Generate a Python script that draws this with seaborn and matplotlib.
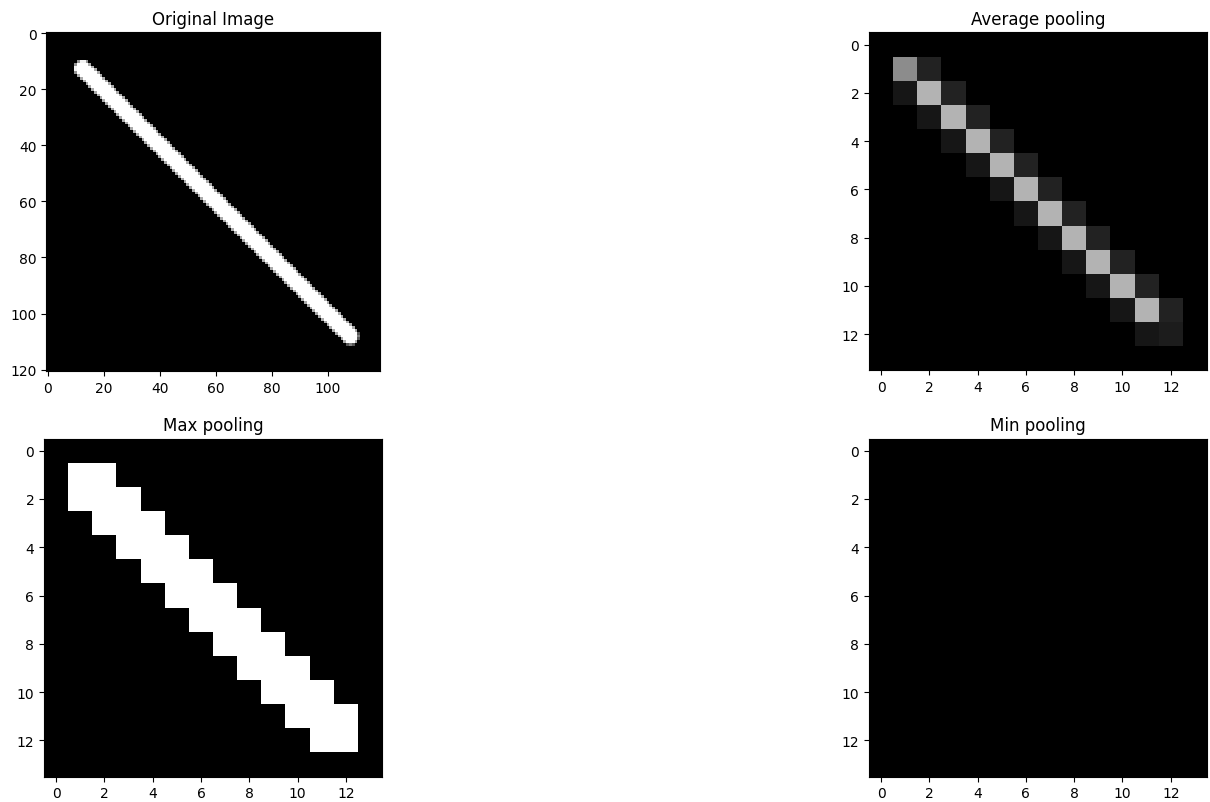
import matplotlib
matplotlib.use("Agg")
import matplotlib.pyplot as plt
import numpy as np
import seaborn as sns

# --------------------------------------------------------------------------
# Original image: one thick white stroke on a black 121x119 canvas
# --------------------------------------------------------------------------
IMG_ROWS, IMG_COLS = 121, 119
LINE_START = (12.5, 12.5)   # (x, y) pixel centre of the stroke start
LINE_END = (108.0, 108.0)
LINE_RADIUS = 3.0

# --------------------------------------------------------------------------
# 14x14 pooled maps, read off per diagonal band (0 = main, +1 above, -1 below)
# --------------------------------------------------------------------------
avg_diag = [0, 140, 179, 179, 179, 179, 179, 179, 179, 179, 179, 179, 28, 0]
avg_upper = [0, 34, 34, 34, 34, 34, 34, 34, 34, 34, 34, 34, 0]
avg_lower = [0, 22, 22, 22, 22, 22, 22, 22, 22, 22, 22, 22, 0]

max_diag = [0, 255, 255, 255, 255, 255, 255, 255, 255, 255, 255, 255, 255, 0]
max_upper = [0, 255, 255, 255, 255, 255, 255, 255, 255, 255, 255, 255, 0]
max_lower = [0, 255, 255, 255, 255, 255, 255, 255, 255, 255, 255, 255, 0]

min_diag = [0] * 14

titles = ["Original Image", "Average pooling", "Max pooling", "Min pooling"]


def stroke_image(rows, cols, p0, p1, radius):
    """Anti-aliased thick segment, values 0..255."""
    yy, xx = np.mgrid[0:rows, 0:cols].astype(float)
    p0, p1 = np.asarray(p0), np.asarray(p1)
    d = p1 - p0
    t = ((xx - p0[0]) * d[0] + (yy - p0[1]) * d[1]) / (d @ d)
    t = np.clip(t, 0, 1)
    dist = np.hypot(xx - (p0[0] + t * d[0]), yy - (p0[1] + t * d[1]))
    return np.clip(radius + 0.5 - dist, 0, 1) * 255


def banded(diag, upper, lower):
    return np.diag(diag) + np.diag(upper, 1) + np.diag(lower, -1)


def show(ax, data, title, step):
    sns.heatmap(data, ax=ax, cmap="gray", vmin=0, vmax=255, cbar=False,
                square=True, xticklabels=False, yticklabels=False)
    nrows, ncols = data.shape
    xt = np.arange(0, ncols, step)
    yt = np.arange(0, nrows, step)
    ax.set_xticks(xt + 0.5)
    ax.set_xticklabels(xt, rotation=0)
    ax.set_yticks(yt + 0.5)
    ax.set_yticklabels(yt, rotation=0)
    for sp in ax.spines.values():
        sp.set_visible(True)
    ax.set_title(title)


original = stroke_image(IMG_ROWS, IMG_COLS, LINE_START, LINE_END, LINE_RADIUS)
avg_pool = banded(avg_diag, avg_upper, avg_lower)
max_pool = banded(max_diag, max_upper, max_lower)
min_pool = np.diag(min_diag)

fig, axes = plt.subplots(2, 2, figsize=(12.1, 8.03), dpi=100)
plt.subplots_adjust(left=0.0364, right=0.9975, top=0.959, bottom=0.031,
                    wspace=1.441, hspace=0.198)

show(axes[0, 0], original, titles[0], 20)
show(axes[0, 1], avg_pool, titles[1], 2)
show(axes[1, 0], max_pool, titles[2], 2)
show(axes[1, 1], min_pool, titles[3], 2)

plt.savefig("out.png", dpi=100)
